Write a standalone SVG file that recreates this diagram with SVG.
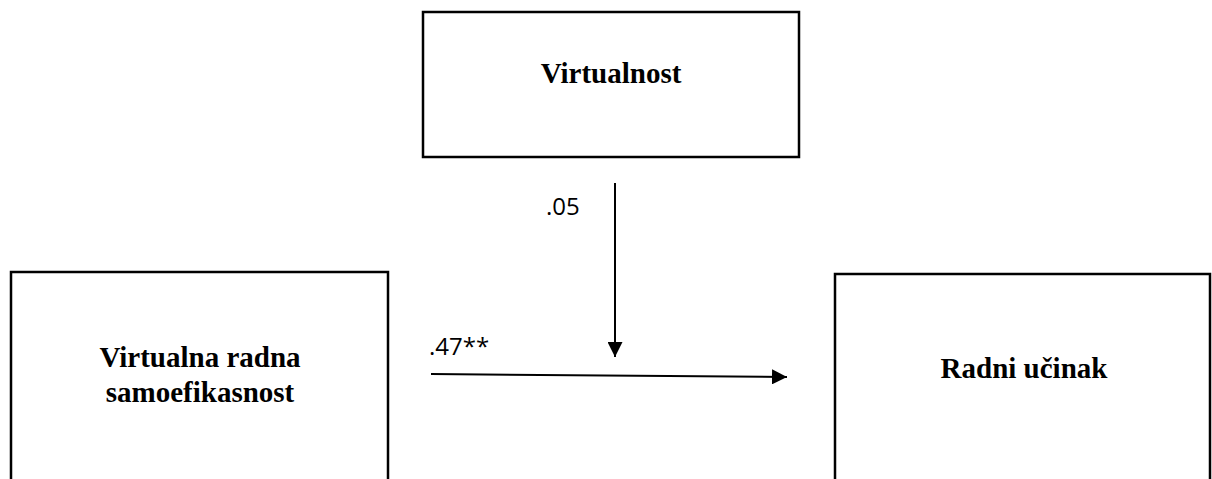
<svg xmlns="http://www.w3.org/2000/svg" width="1212" height="479" viewBox="0 0 1212 479">
<style>
.box{fill:#fff;stroke:#000;stroke-width:2.5}
.lbl{font-family:"Liberation Serif","Times New Roman",serif;font-weight:bold;font-size:29px;fill:#000;text-anchor:middle}
.num{font-family:"Open Sans","Liberation Sans",Arial,sans-serif;font-size:24px;fill:#000}
.edge{stroke:#000;stroke-width:2;fill:none}
</style>
<defs>
<marker id="arr" markerWidth="15" markerHeight="15" refX="15" refY="7.5" orient="auto" markerUnits="userSpaceOnUse">
<path d="M0,0 L15,7.5 L0,15 Z" fill="#000"/>
</marker>
</defs>
<rect width="1212" height="479" fill="#fff"/>
<g id="virtualnost">
<rect class="box" x="423" y="12" width="376" height="145"/>
<text class="lbl" x="611" y="83">Virtualnost</text>
</g>
<g id="samoefikasnost">
<rect class="box" x="11" y="272" width="377" height="220"/>
<text class="lbl" x="200" y="367">Virtualna radna</text>
<text class="lbl" x="200" y="402">samoefikasnost</text>
</g>
<g id="ucinak">
<rect class="box" x="835" y="274" width="375" height="220"/>
<text class="lbl" x="1024" y="378">Radni učinak</text>
</g>
<g id="connectors">
<line class="edge" x1="615" y1="183" x2="615" y2="357" marker-end="url(#arr)"/>
<line class="edge" x1="431" y1="374" x2="787" y2="377" marker-end="url(#arr)"/>
<text class="num" x="546" y="215">.05</text>
<text class="num" x="429" y="355">.47**</text>
</g>
</svg>
